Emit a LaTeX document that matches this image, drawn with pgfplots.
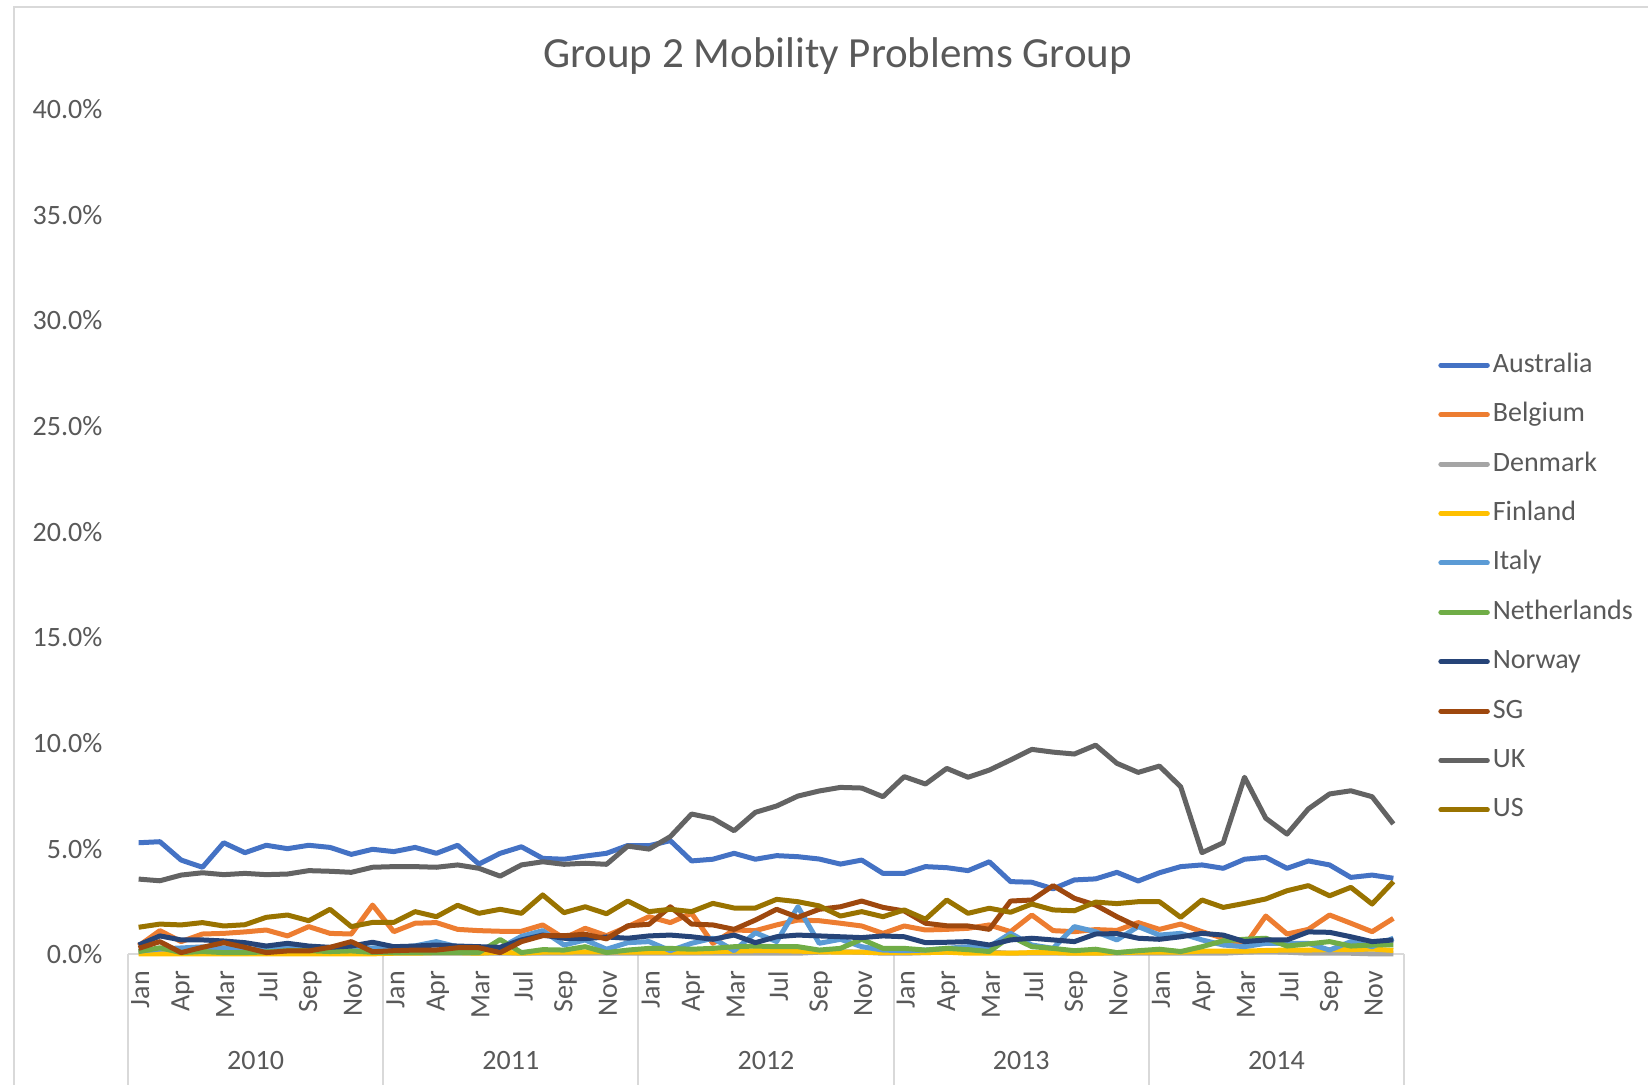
\documentclass[border=0pt]{standalone}
\usepackage{fontspec}
\setmainfont{Carlito}
\usepackage{pgfplots}
\usepackage{pgfplotstable}
\pgfplotsset{compat=1.18}
\definecolor{cAus}{HTML}{4472C4}
\definecolor{cBel}{HTML}{ED7D31}
\definecolor{cDen}{HTML}{A5A5A5}
\definecolor{cFin}{HTML}{FFC000}
\definecolor{cIta}{HTML}{5B9BD5}
\definecolor{cNet}{HTML}{70AD47}
\definecolor{cNor}{HTML}{264478}
\definecolor{cSG}{HTML}{9E480E}
\definecolor{cUK}{HTML}{636363}
\definecolor{cUS}{HTML}{997300}
\definecolor{txt}{HTML}{595959}
\definecolor{axgray}{HTML}{D9D9D9}
\pgfplotstableread{
i Aus Bel Den Fin Ita Net Nor SG UK US
0 5.28 0.40 0.05 0.02 0.15 0.13 0.44 0.28 3.56 1.28
1 5.33 1.12 0.20 0.02 0.25 0.31 0.87 0.60 3.48 1.43
2 4.46 0.60 0.25 0.02 0.30 0.08 0.68 0.08 3.75 1.39
3 4.12 0.96 0.15 0.02 0.35 0.13 0.68 0.33 3.86 1.50
4 5.28 0.99 0.10 0.02 0.30 0.08 0.63 0.55 3.77 1.34
5 4.81 1.06 0.08 0.02 0.25 0.08 0.55 0.33 3.83 1.40
6 5.16 1.15 0.05 0.02 0.25 0.11 0.39 0.08 3.77 1.75
7 5.00 0.87 0.05 0.02 0.30 0.17 0.52 0.16 3.80 1.86
8 5.16 1.31 0.05 0.02 0.35 0.17 0.39 0.16 3.96 1.59
9 5.06 0.99 0.05 0.02 0.30 0.13 0.33 0.33 3.93 2.13
10 4.73 0.96 0.05 0.02 0.25 0.16 0.39 0.60 3.88 1.31
11 4.97 2.33 0.08 0.02 0.30 0.09 0.57 0.12 4.12 1.51
12 4.86 1.07 0.05 0.05 0.30 0.08 0.36 0.17 4.15 1.51
13 5.06 1.47 0.05 0.05 0.40 0.08 0.39 0.20 4.15 2.02
14 4.78 1.50 0.05 0.08 0.60 0.08 0.44 0.20 4.12 1.78
15 5.16 1.18 0.05 0.08 0.35 0.08 0.39 0.31 4.23 2.32
16 4.27 1.12 0.05 0.05 0.30 0.08 0.36 0.31 4.07 1.94
17 4.78 1.09 0.05 0.10 0.30 0.70 0.33 0.08 3.70 2.13
18 5.09 1.09 0.05 0.05 0.85 0.08 0.68 0.60 4.23 1.94
19 4.54 1.39 0.05 0.10 1.12 0.22 0.91 0.88 4.38 2.81
20 4.50 0.76 0.05 0.10 0.44 0.20 0.76 0.88 4.26 1.97
21 4.65 1.23 0.05 0.12 0.68 0.36 0.74 0.95 4.31 2.25
22 4.78 0.88 0.05 0.12 0.24 0.08 0.82 0.73 4.26 1.92
23 5.15 1.31 0.05 0.10 0.55 0.20 0.76 1.35 5.12 2.52
24 5.14 1.78 0.05 0.10 0.60 0.28 0.87 1.42 4.98 2.02
25 5.38 1.50 0.05 0.10 0.17 0.28 0.91 2.25 5.57 2.13
26 4.42 1.94 0.05 0.10 0.52 0.24 0.83 1.43 6.64 2.02
27 4.50 0.52 0.05 0.12 0.76 0.28 0.71 1.39 6.43 2.41
28 4.78 1.15 0.05 0.15 0.17 0.36 0.91 1.18 5.85 2.19
29 4.50 1.12 0.05 0.17 1.02 0.39 0.55 1.62 6.72 2.19
30 4.67 1.39 0.05 0.17 0.60 0.36 0.83 2.13 7.02 2.60
31 4.62 1.62 0.05 0.15 2.25 0.36 0.91 1.75 7.49 2.49
32 4.51 1.59 0.10 0.12 0.52 0.20 0.87 2.13 7.73 2.29
33 4.27 1.47 0.12 0.10 0.71 0.28 0.83 2.25 7.90 1.81
34 4.46 1.34 0.10 0.10 0.36 0.71 0.79 2.52 7.87 2.02
35 3.83 0.99 0.05 0.08 0.20 0.28 0.87 2.22 7.46 1.78
36 3.83 1.34 0.05 0.08 0.17 0.28 0.83 2.05 8.41 2.10
37 4.15 1.15 0.08 0.08 0.20 0.20 0.55 1.47 8.06 1.66
38 4.10 1.18 0.10 0.10 0.28 0.28 0.57 1.35 8.80 2.57
39 3.96 1.23 0.10 0.05 0.36 0.22 0.60 1.34 8.38 1.94
40 4.38 1.39 0.10 0.05 0.36 0.13 0.44 1.18 8.72 2.18
41 3.44 1.07 0.05 0.05 0.99 0.85 0.68 2.52 9.20 1.99
42 3.41 1.86 0.05 0.08 0.44 0.36 0.76 2.57 9.70 2.38
43 3.10 1.12 0.05 0.08 0.28 0.28 0.68 3.25 9.57 2.10
44 3.52 1.07 0.05 0.05 1.31 0.17 0.60 2.65 9.48 2.06
45 3.57 1.17 0.05 0.05 1.07 0.24 0.96 2.33 9.90 2.47
46 3.88 1.13 0.05 0.08 0.68 0.08 0.98 1.78 9.04 2.40
47 3.47 1.50 0.05 0.10 1.31 0.17 0.76 1.30 8.61 2.49
48 3.86 1.18 0.05 0.10 0.91 0.24 0.71 nan 8.91 2.49
49 4.15 1.43 0.05 0.10 0.99 0.13 0.83 nan 7.93 1.75
50 4.23 1.07 0.05 0.15 0.68 0.36 0.99 nan 4.81 2.57
51 4.07 0.76 0.05 0.15 0.44 0.64 0.91 nan 5.28 2.22
52 4.50 0.39 0.10 0.15 0.36 0.71 0.60 nan 8.38 2.41
53 4.59 1.81 0.12 0.18 0.52 0.76 0.68 nan 6.44 2.62
54 4.07 0.96 0.10 0.20 0.52 0.39 0.68 nan 5.69 3.01
55 4.42 1.18 0.05 0.20 0.52 0.49 1.06 nan 6.88 3.25
56 4.23 1.86 0.05 0.22 0.20 0.60 1.04 nan 7.59 2.77
57 3.64 1.47 0.05 0.22 0.60 0.39 0.83 nan 7.74 3.17
58 3.75 1.07 0.02 0.25 0.36 0.44 0.60 nan 7.46 2.38
59 3.60 1.70 0.02 0.18 0.76 0.44 0.68 nan 6.17 3.44
}\data
\begin{document}
\begin{tikzpicture}
\path[use as bounding box] (0,0) rectangle (824pt,542.5pt);
\draw[axgray, line width=1pt] (7pt,-2pt) -- (7pt,539pt) -- (826pt,539pt);
\node[font=\fontsize{21.5}{24}\selectfont, text=txt] at (418.8pt,514.7pt) {Group 2 Mobility Problems Group};
\begin{axis}[
  at={(64pt,65.35pt)}, anchor=south west,
  width=638pt, height=422.5pt, scale only axis,
  xmin=-0.5, xmax=59.5, ymin=0, ymax=40,
  clip=false,
  axis line style={draw=none},
  /pgf/number format/assume math mode=true,
  ytick={0,5,...,40},
  yticklabel={\pgfmathprintnumber[fixed,fixed zerofill,precision=1]{\tick}\%},
  xtick={0,2,...,58},
  xticklabels={Jan,Apr,Mar,Jul,Sep,Nov,Jan,Apr,Mar,Jul,Sep,Nov,Jan,Apr,Mar,Jul,Sep,Nov,Jan,Apr,Mar,Jul,Sep,Nov,Jan,Apr,Mar,Jul,Sep,Nov},
  major tick length=0pt,
  tick label style={font=\fontsize{14}{16}\selectfont, text=txt},
  y tick label style={anchor=east, xshift=-9.3pt},
  x tick label style={yshift=-4.8pt, xshift=0.8pt, rotate=90, anchor=east},
  legend style={at={(1.0266,0.4340)}, anchor=west, draw=none, fill=none,
    inner sep=0pt, row sep=11.7pt, column sep=0pt,
    font=\fontsize{14}{16}\selectfont, text=txt,
    nodes={inner xsep=1.5pt, inner ysep=0pt, text height=10pt, text depth=3pt}},
  legend cell align=left,
  legend image code/.code={\draw[#1, line width=2.5pt, line cap=round] (0.5pt,0pt) -- (23.75pt,0pt);},
  every axis plot/.append style={line width=2.5pt, line join=round},
]
\draw[axgray, line width=1pt] (axis cs:-0.5,0) -- (axis cs:59.5,0);
\draw[axgray, line width=1pt] (axis cs:-0.5,0) -- ++(0pt,-67pt);
\draw[axgray, line width=1pt] (axis cs:11.5,0) -- ++(0pt,-67pt);
\draw[axgray, line width=1pt] (axis cs:23.5,0) -- ++(0pt,-67pt);
\draw[axgray, line width=1pt] (axis cs:35.5,0) -- ++(0pt,-67pt);
\draw[axgray, line width=1pt] (axis cs:47.5,0) -- ++(0pt,-67pt);
\draw[axgray, line width=1pt] (axis cs:59.5,0) -- ++(0pt,-67pt);
\addplot[cAus] table[x=i,y=Aus]{\data}; \addlegendentry{Australia}
\addplot[cBel] table[x=i,y=Bel]{\data}; \addlegendentry{Belgium}
\addplot[cDen] table[x=i,y=Den]{\data}; \addlegendentry{Denmark}
\addplot[cFin] table[x=i,y=Fin]{\data}; \addlegendentry{Finland}
\addplot[cIta] table[x=i,y=Ita]{\data}; \addlegendentry{Italy}
\addplot[cNet] table[x=i,y=Net]{\data}; \addlegendentry{Netherlands}
\addplot[cNor] table[x=i,y=Nor]{\data}; \addlegendentry{Norway}
\addplot[cSG] table[x=i,y=SG]{\data}; \addlegendentry{SG}
\addplot[cUK] table[x=i,y=UK]{\data}; \addlegendentry{UK}
\addplot[cUS] table[x=i,y=US]{\data}; \addlegendentry{US}
\node[font=\fontsize{14}{16}\selectfont, text=txt, yshift=-53pt] at (axis cs:5.5,0) {2010};
\node[font=\fontsize{14}{16}\selectfont, text=txt, yshift=-53pt] at (axis cs:17.5,0) {2011};
\node[font=\fontsize{14}{16}\selectfont, text=txt, yshift=-53pt] at (axis cs:29.5,0) {2012};
\node[font=\fontsize{14}{16}\selectfont, text=txt, yshift=-53pt] at (axis cs:41.5,0) {2013};
\node[font=\fontsize{14}{16}\selectfont, text=txt, yshift=-53pt] at (axis cs:53.5,0) {2014};
\end{axis}
\end{tikzpicture}
\end{document}
